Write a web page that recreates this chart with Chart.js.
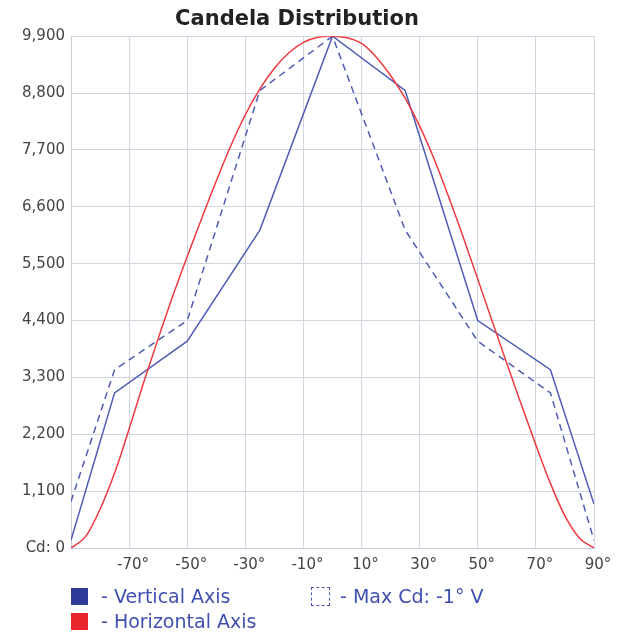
<!DOCTYPE html>
<html>
<head>
<meta charset="utf-8">
<script src="https://cdn.jsdelivr.net/npm/chart.js@4/dist/chart.umd.min.js"></script>
<style>
  body { margin: 0; background: #fff; }
  #wrap { position: relative; width: 621px; height: 635px; }
  .leg { position: absolute; font-family: "DejaVu Sans", sans-serif; font-size: 19px; color: #3f4fb0; line-height: 20px; white-space: nowrap; }
  .box { position: absolute; width: 17px; height: 17px; }
</style>
</head>
<body>
<div id="wrap">
  <canvas id="myChart" width="621" height="635"></canvas>
  <div class="box" style="left:71px;top:588px;background:#2f3b98"></div>
  <div class="leg" style="left:101px;top:586px">- Vertical Axis</div>
  <div class="box" style="left:311px;top:587px;width:17px;height:17px;border:1px dashed #4a58b4"></div>
  <div class="leg" style="left:340px;top:586px">- Max Cd: -1° V</div>
  <div class="box" style="left:71px;top:613px;background:#e8262b"></div>
  <div class="leg" style="left:101px;top:611px">- Horizontal Axis</div>
</div>
<script>
// candela values, angles in degrees
const verticalAngles = [-90, -75, -50, -25, 0, 25, 50, 75, 90];
const verticalCd = [150, 3000, 4000, 6150, 9900, 8850, 4400, 3450, 850];
const maxCdCd = [900, 3450, 4400, 8850, 9900, 6150, 4000, 3000, 150];

const horizontalAngles = [-90, -85, -80, -75, -70, -65, -60, -55, -50, -45, -40, -35, -30, -25, -20, -15, -10, -5,
    0, 5, 10, 15, 20, 25, 30, 35, 40, 45, 50, 55, 60, 65, 70, 75, 80, 85, 90];
const horizontalCd = [0, 220, 750, 1450, 2300, 3200, 4050, 4870, 5640, 6380, 7100, 7780, 8380, 8880, 9280, 9580, 9780, 9880,
    9900, 9870, 9760, 9500, 9140, 8700, 8160, 7520, 6790, 6010, 5200, 4380, 3570, 2770, 1990, 1250, 620, 190, 0];

const yTicks = [0, 1100, 2200, 3300, 4400, 5500, 6600, 7700, 8800, 9900];

const toPoints = (xs, ys) => xs.map((x, i) => ({ x: x, y: ys[i] }));

const ctx = document.getElementById('myChart').getContext('2d');
new Chart(ctx, {
    type: 'line',
    data: {
        datasets: [{
            label: 'Horizontal Axis',
            data: toPoints(horizontalAngles, horizontalCd),
            borderColor: '#ee3a3f',
            borderWidth: 1.5,
            pointRadius: 0,
            cubicInterpolationMode: 'monotone'
        }, {
            label: 'Max Cd: -1° V',
            data: toPoints(verticalAngles, maxCdCd),
            borderColor: '#4f5cb6',
            borderWidth: 1.5,
            borderDash: [7, 5],
            pointRadius: 0
        }, {
            label: 'Vertical Axis',
            data: toPoints(verticalAngles, verticalCd),
            borderColor: '#4f5cb6',
            borderWidth: 1.5,
            pointRadius: 0
        }]
    },
    options: {
        responsive: false,
        animation: false,
        layout: { padding: { left: 0, right: 27, top: 0, bottom: 53 } },
        plugins: {
            legend: { display: false },
            tooltip: { enabled: false },
            title: {
                display: true,
                text: 'Candela Distribution',
                color: '#222',
                font: { family: 'DejaVu Sans', size: 21, weight: 'bold' },
                padding: { top: 7, bottom: 4 }
            }
        },
        scales: {
            x: {
                type: 'linear',
                min: -90,
                max: 90,
                grid: { color: '#d3d6e2', drawTicks: false },
                border: { color: '#c8ccd8' },
                ticks: {
                    stepSize: 20,
                    padding: 8,
                    labelOffset: 4,
                    color: '#444',
                    font: { family: 'DejaVu Sans', size: 15 },
                    callback: v => v === -90 ? '' : v + '°'
                }
            },
            y: {
                min: 0,
                max: 9900,
                afterFit: s => { s.width = 71; },
                afterBuildTicks: s => { s.ticks = yTicks.map(v => ({ value: v })); },
                grid: { color: '#d3d6e2', drawTicks: false },
                border: { color: '#c8ccd8' },
                ticks: {
                    padding: 6,
                    color: '#444',
                    font: { family: 'DejaVu Sans', size: 15 },
                    callback: v => v === 0 ? 'Cd: 0' : v.toLocaleString('en-US')
                }
            }
        }
    }
});
</script>
</body>
</html>
